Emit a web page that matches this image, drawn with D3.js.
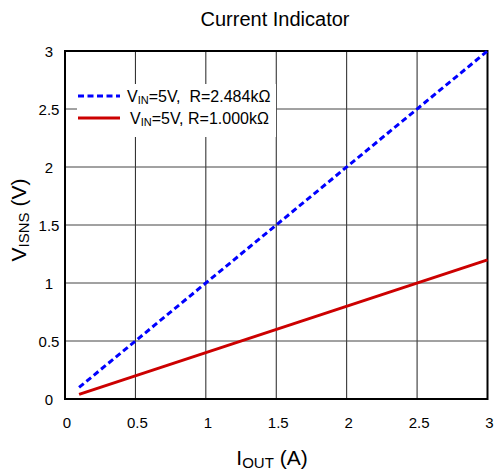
<!DOCTYPE html>
<html>
<head>
<meta charset="utf-8">
<script src="https://cdn.jsdelivr.net/npm/d3@7"></script>
<style>
  body { margin: 0; background: #fff; }
  text { font-family: Arial, "Liberation Sans", sans-serif; fill: #000; }
</style>
</head>
<body>
<script>
var w = 498;
var h = 474;

// data
var xTicks = [0, 0.5, 1, 1.5, 2, 2.5, 3];
var yTicks = [0, 0.5, 1, 1.5, 2, 2.5, 3];
var blueX = [0.1, 3];
var blueY = [0.1, 3];
var redX = [0.1, 3];
var redY = [0.04, 1.2];

// plot box (note: "top" is taken by window.top)
var plotLeft = 65, plotRight = 487.5, plotTop = 51, plotBottom = 399;

var svg = d3.select("body")
    .append("svg")
    .attr("width", w)
    .attr("height", h);

var x = d3.scaleLinear().domain([0, 3]).range([plotLeft, plotRight]);
var y = d3.scaleLinear().domain([0, 3]).range([plotBottom, plotTop]);

//grid
svg.append("g")
    .selectAll("line")
    .data(xTicks.slice(1, -1))
    .enter()
    .append("line")
    .attr("x1", function (d) { return x(d); })
    .attr("x2", function (d) { return x(d); })
    .attr("y1", plotTop)
    .attr("y2", plotBottom)
    .attr("stroke", "#222")
    .attr("stroke-width", 1);

svg.append("g")
    .selectAll("line")
    .data(yTicks.slice(1, -1))
    .enter()
    .append("line")
    .attr("x1", plotLeft)
    .attr("x2", plotRight)
    .attr("y1", function (d) { return y(d); })
    .attr("y2", function (d) { return y(d); })
    .attr("stroke", "#444")
    .attr("stroke-width", 1);

// legend background hides the grid
svg.append("rect")
    .attr("x", 77)
    .attr("y", 84)
    .attr("width", 199)
    .attr("height", 53)
    .attr("fill", "#fff");

// frame
svg.append("rect")
    .attr("x", plotLeft)
    .attr("y", plotTop)
    .attr("width", plotRight - plotLeft)
    .attr("height", plotBottom - plotTop)
    .attr("fill", "none")
    .attr("stroke", "#000")
    .attr("stroke-width", 2);

// tick labels
svg.append("g")
    .selectAll("text")
    .data(xTicks)
    .enter()
    .append("text")
    .attr("x", function (d) { return x(d) + 2; })
    .attr("y", 428)
    .attr("text-anchor", "middle")
    .attr("font-size", 15)
    .text(function (d) { return d; });

svg.append("g")
    .selectAll("text")
    .data(yTicks)
    .enter()
    .append("text")
    .attr("x", 49)
    .attr("y", function (d) { return y(d) + 5.5; })
    .attr("text-anchor", "middle")
    .attr("font-size", 15)
    .text(function (d) { return d; });

// lines
var line = d3.line()
    .x(function (d) { return x(d[0]); })
    .y(function (d) { return y(d[1]); });

svg.append("path")
    .datum(d3.zip(redX, redY))
    .attr("d", line)
    .attr("fill", "none")
    .attr("stroke", "#cc0000")
    .attr("stroke-width", 3);

svg.append("path")
    .datum(d3.zip(blueX, blueY))
    .attr("d", line)
    .attr("fill", "none")
    .attr("stroke", "#0000ff")
    .attr("stroke-width", 3)
    .attr("stroke-dasharray", "6,3.5");

// legend
var legend = [
    { color: "#0000ff", dash: "6,3.5", r: "R=2.484k\u03A9", sep: ",\u00A0\u00A0", y: 96 },
    { color: "#cc0000", dash: null, r: "R=1.000k\u03A9", sep: ",\u00A0", y: 118 }
];

legend.forEach(function (d, i) {
    svg.append("line")
        .attr("x1", 78)
        .attr("x2", 120)
        .attr("y1", d.y)
        .attr("y2", d.y)
        .attr("stroke", d.color)
        .attr("stroke-width", 3)
        .attr("stroke-dasharray", d.dash);

    var t = svg.append("text")
        .attr("x", i === 0 ? 127 : 130)
        .attr("y", d.y + 6)
        .attr("font-size", 16);
    t.append("tspan").text("V");
    t.append("tspan").attr("font-size", 11).attr("dy", 2).text("IN");
    t.append("tspan").attr("dy", -2).text("=5V" + d.sep + d.r);
});

// title and axis labels
svg.append("text")
    .attr("x", 275)
    .attr("y", 26)
    .attr("text-anchor", "middle")
    .attr("font-size", 20)
    .text("Current Indicator");

var xl = svg.append("text")
    .attr("x", 272)
    .attr("y", 465)
    .attr("text-anchor", "middle")
    .attr("font-size", 21);
xl.append("tspan").text("I");
xl.append("tspan").attr("font-size", 15).attr("dy", 3).text("OUT");
xl.append("tspan").attr("dy", -3).text(" (A)");

var yl = svg.append("text")
    .attr("transform", "translate(26,220) rotate(-90)")
    .attr("text-anchor", "middle")
    .attr("font-size", 21);
yl.append("tspan").text("V");
yl.append("tspan").attr("font-size", 15).attr("dy", 3).text("ISNS");
yl.append("tspan").attr("dy", -3).text(" (V)");
</script>
</body>
</html>
